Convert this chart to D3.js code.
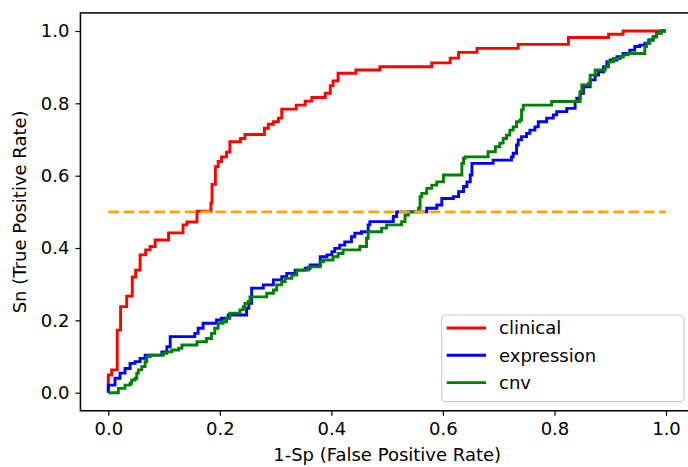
<!DOCTYPE html>
<html>
<head>
<meta charset="utf-8">
<script src="https://cdn.jsdelivr.net/npm/d3@7"></script>
<style>
	body { margin: 0; background: white; }
	svg text { font-family: "DejaVu Sans", sans-serif; fill: black; }
</style>
</head>
<body>
<svg id="chart" width="688" height="467"></svg>
<script>
// ROC points: [fpr, tpr] where tpr steps up at fpr
const clinical = [
	[0, 0], [0, 0.049], [0.006, 0.063], [0.016, 0.173], [0.022, 0.238], [0.033, 0.267],
	[0.043, 0.320], [0.049, 0.339], [0.057, 0.381], [0.067, 0.395], [0.075, 0.404],
	[0.084, 0.422], [0.108, 0.442], [0.134, 0.464], [0.141, 0.472], [0.159, 0.502],
	[0.184, 0.524], [0.186, 0.576], [0.192, 0.625], [0.197, 0.639], [0.203, 0.652],
	[0.212, 0.665], [0.218, 0.694], [0.237, 0.703], [0.245, 0.714], [0.280, 0.731],
	[0.287, 0.742], [0.296, 0.749], [0.305, 0.759], [0.311, 0.784], [0.337, 0.795],
	[0.353, 0.806], [0.365, 0.816], [0.389, 0.828], [0.398, 0.849], [0.403, 0.862],
	[0.412, 0.883], [0.444, 0.892], [0.487, 0.901], [0.580, 0.912], [0.613, 0.925],
	[0.628, 0.941], [0.661, 0.952], [0.735, 0.963], [0.825, 0.982], [0.897, 0.991],
	[0.923, 1.0], [1.0, 1.0]
]
const expression = [
	[0, 0], [0, 0.021], [0.012, 0.040], [0.021, 0.054], [0.030, 0.067], [0.039, 0.081],
	[0.048, 0.086], [0.057, 0.095], [0.066, 0.104], [0.096, 0.113], [0.105, 0.127],
	[0.111, 0.155], [0.155, 0.164], [0.161, 0.178], [0.170, 0.192], [0.194, 0.201],
	[0.203, 0.206], [0.215, 0.215], [0.248, 0.233], [0.252, 0.247], [0.257, 0.289],
	[0.278, 0.298], [0.296, 0.312], [0.311, 0.321], [0.320, 0.330], [0.335, 0.339],
	[0.353, 0.344], [0.362, 0.353], [0.380, 0.376], [0.392, 0.381], [0.401, 0.390],
	[0.406, 0.399], [0.415, 0.408], [0.424, 0.417], [0.436, 0.431], [0.442, 0.441],
	[0.454, 0.445], [0.466, 0.464], [0.469, 0.473], [0.511, 0.487], [0.517, 0.500],
	[0.571, 0.510], [0.589, 0.519], [0.598, 0.537], [0.619, 0.542], [0.628, 0.556],
	[0.637, 0.570], [0.643, 0.583], [0.649, 0.602], [0.652, 0.634], [0.690, 0.643],
	[0.723, 0.652], [0.726, 0.662], [0.732, 0.685], [0.735, 0.699], [0.741, 0.708],
	[0.750, 0.717], [0.756, 0.726], [0.765, 0.735], [0.771, 0.749], [0.786, 0.759],
	[0.798, 0.768], [0.804, 0.777], [0.822, 0.786], [0.837, 0.805], [0.840, 0.814],
	[0.846, 0.828], [0.852, 0.846], [0.864, 0.865], [0.873, 0.878], [0.879, 0.887],
	[0.888, 0.901], [0.894, 0.915], [0.900, 0.920], [0.912, 0.929], [0.923, 0.938],
	[0.935, 0.947], [0.944, 0.957], [0.953, 0.961], [0.962, 0.966], [0.969, 0.975],
	[0.977, 0.984], [0.983, 0.994], [0.992, 1.0], [1, 1]
]
const cnv = [
	[0, 0], [0.018, 0.012], [0.030, 0.021], [0.039, 0.026], [0.042, 0.035], [0.048, 0.040],
	[0.051, 0.054], [0.054, 0.063], [0.060, 0.072], [0.066, 0.086], [0.069, 0.100],
	[0.075, 0.104], [0.099, 0.109], [0.105, 0.113], [0.114, 0.118], [0.126, 0.123],
	[0.132, 0.132], [0.159, 0.141], [0.176, 0.150], [0.185, 0.164], [0.191, 0.178],
	[0.197, 0.192], [0.206, 0.196], [0.212, 0.206], [0.218, 0.220], [0.236, 0.229],
	[0.242, 0.238], [0.245, 0.247], [0.251, 0.252], [0.254, 0.265], [0.284, 0.275],
	[0.296, 0.284], [0.302, 0.298], [0.311, 0.307], [0.317, 0.316], [0.329, 0.325],
	[0.338, 0.339], [0.359, 0.348], [0.380, 0.362], [0.386, 0.367], [0.403, 0.376],
	[0.412, 0.385], [0.421, 0.395], [0.451, 0.404], [0.463, 0.427], [0.466, 0.445],
	[0.490, 0.455], [0.499, 0.464], [0.526, 0.473], [0.532, 0.491], [0.538, 0.500],
	[0.556, 0.510], [0.559, 0.542], [0.562, 0.551], [0.571, 0.565], [0.580, 0.574],
	[0.589, 0.583], [0.601, 0.602], [0.634, 0.634], [0.637, 0.648], [0.640, 0.652],
	[0.681, 0.666], [0.694, 0.680], [0.702, 0.690], [0.708, 0.703], [0.714, 0.712],
	[0.720, 0.726], [0.726, 0.735], [0.732, 0.749], [0.738, 0.754], [0.741, 0.782],
	[0.744, 0.795], [0.795, 0.805], [0.846, 0.832], [0.849, 0.851], [0.861, 0.855],
	[0.864, 0.878], [0.873, 0.892], [0.891, 0.901], [0.897, 0.915], [0.906, 0.924],
	[0.918, 0.929], [0.923, 0.934], [0.932, 0.938], [0.962, 0.957], [0.965, 0.966],
	[0.971, 0.975], [0.977, 0.984], [0.983, 0.994], [0.992, 1.0], [1, 1]
]
const seriesNames = ["clinical", "expression", "cnv"]
const seriesColours = ["#ff0000", "#0000ff", "#008000"]
const tickValues = [0, 0.2, 0.4, 0.6, 0.8, 1.0]
const threshold = 0.5

const svg = d3.select("#chart")
const fontSize = 18

let x = d3.scaleLinear().domain([0, 1]).range([108.3, 666])
let y = d3.scaleLinear().domain([0, 1]).range([392.7, 31])

// frame (matplotlib adds 5% margins)
let x0 = x(-0.05), x1 = x(1.05), y0 = y(-0.05), y1 = y(1.05)

let xAxis = svg.append("g")
	.attr("transform", `translate(0,${y0})`)
	.call(d3.axisBottom(x).tickValues(tickValues).tickFormat(d3.format(".1f"))
		.tickSize(5).tickPadding(6))
let yAxis = svg.append("g")
	.attr("transform", `translate(${x0},0)`)
	.call(d3.axisLeft(y).tickValues(tickValues).tickFormat(d3.format(".1f"))
		.tickSize(5).tickPadding(6))
svg.selectAll(".domain").remove()
svg.selectAll(".tick line").attr("stroke", "black").attr("stroke-width", 1.2)
svg.selectAll(".tick text")
	.style("font-size", `${fontSize}px`)
	.style("font-family", "DejaVu Sans, sans-serif")

let line = d3.line()
	.x(d => x(d[0]))
	.y(d => y(d[1]))
	.curve(d3.curveStepAfter)

let plot = svg.append("g")
plot.selectAll("path.roc")
	.data([clinical, expression, cnv])
	.join("path")
	.attr("class", "roc")
	.attr("d", line)
	.attr("fill", "none")
	.attr("stroke", (d, i) => seriesColours[i])
	.attr("stroke-width", 2.9)
	.attr("stroke-linejoin", "miter")

plot.append("line")
	.attr("x1", x(0)).attr("x2", x(1))
	.attr("y1", y(threshold)).attr("y2", y(threshold))
	.attr("stroke", "#ffa500")
	.attr("stroke-width", 2.9)
	.attr("stroke-dasharray", "10.7,4.6")

svg.append("rect")
	.attr("x", x0).attr("y", y1)
	.attr("width", x1 - x0).attr("height", y0 - y1)
	.attr("fill", "none")
	.attr("stroke", "black")
	.attr("stroke-width", 1.5)

// axis labels
svg.append("text")
	.attr("x", (x0 + x1) / 2)
	.attr("y", 461)
	.attr("text-anchor", "middle")
	.style("font-size", `${fontSize}px`)
	.text("1-Sp (False Positive Rate)")
svg.append("text")
	.attr("transform", `translate(26,${(y0 + y1) / 2}) rotate(-90)`)
	.attr("text-anchor", "middle")
	.style("font-size", `${fontSize}px`)
	.text("Sn (True Positive Rate)")

// legend
let legend = svg.append("g")
legend.append("rect")
	.attr("x", 441.7).attr("y", 315)
	.attr("width", 242.3).attr("height", 86.7)
	.attr("rx", 4)
	.attr("fill", "white").attr("fill-opacity", 0.8)
	.attr("stroke", "#cccccc").attr("stroke-width", 1.2)
let rows = legend.selectAll("g.item")
	.data(seriesNames)
	.join("g")
	.attr("class", "item")
	.attr("transform", (d, i) => `translate(0,${328 + i * 27.3})`)
rows.append("line")
	.attr("x1", 446.7).attr("x2", 486)
	.attr("stroke", (d, i) => seriesColours[i])
	.attr("stroke-width", 2.9)
rows.append("text")
	.attr("x", 499)
	.attr("dy", "0.35em")
	.style("font-size", `${fontSize}px`)
	.text(d => d)
</script>
</body>
</html>
